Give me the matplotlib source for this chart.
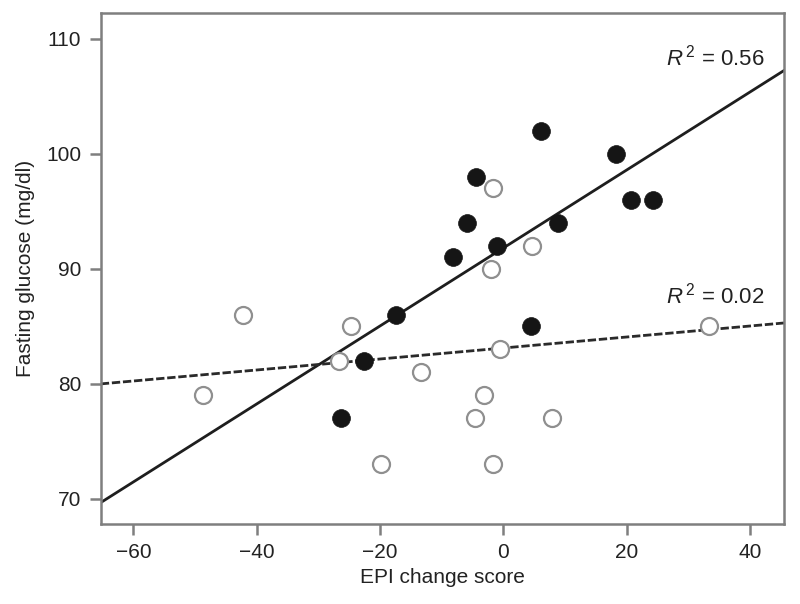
import matplotlib
matplotlib.use("Agg")
import matplotlib.pyplot as plt
import numpy as np

plt.rcParams['font.family'] = ['Liberation Sans', 'DejaVu Sans']
plt.rcParams['mathtext.fontset'] = 'custom'
plt.rcParams['mathtext.rm'] = 'Liberation Sans'
plt.rcParams['mathtext.it'] = 'Liberation Sans:italic'

# Filled points (black)
filled_x = [6.1, 18.3, -4.4, -5.9, 8.9, 20.7, 24.3, -1.0, -8.1, -17.4, 4.5, -22.6, -26.3]
filled_y = [102, 100, 98, 94, 94, 96, 96, 92, 91, 86, 85, 82, 77]

# Open points (grey)
open_x = [-1.7, 4.6, -2.0, -42.2, -24.7, 33.3, -0.5, -26.7, -13.4, -48.7, -3.1, -4.6, 7.9, -19.9, -1.7]
open_y = [97, 92, 90, 86, 85, 85, 83, 82, 81, 79, 79, 77, 77, 73, 73]

# Fit lines: (slope, intercept)
solid_fit = (0.339, 91.8)
dashed_fit = (0.0478, 83.1)

x_ticks = [-60, -40, -20, 0, 20, 40]
y_ticks = [70, 80, 90, 100, 110]

fig = plt.figure(figsize=(8, 6.04), dpi=100)
ax = fig.add_axes([0.126, 0.1325, 0.854, 0.8455])

xlim = (-65.3, 45.5)
ylim = (67.8, 112.2)
xs = np.array(xlim)

ax.plot(xs, solid_fit[0] * xs + solid_fit[1], color='#1e1e1e', lw=2.0, zorder=2)
ax.plot(xs, dashed_fit[0] * xs + dashed_fit[1], color='#2a2a2a', lw=2.0,
        linestyle=(0, (3, 1)), zorder=2)

ax.scatter(open_x, open_y, s=150, facecolors='white', edgecolors='#8f8f8f',
           linewidths=1.6, zorder=3)
ax.scatter(filled_x, filled_y, s=165, color='#151515', edgecolors='#151515',
           linewidths=0.5, zorder=4)

ax.text(0.972, 0.914, r'$R^{\,2}$ = 0.56', transform=ax.transAxes, ha='right',
        va='center', fontsize=16, color='#222222')
ax.text(0.972, 0.448, r'$R^{\,2}$ = 0.02', transform=ax.transAxes, ha='right',
        va='center', fontsize=16, color='#222222')

ax.set_xlim(*xlim)
ax.set_ylim(*ylim)
ax.set_xticks(x_ticks)
ax.set_yticks(y_ticks)
ax.set_xticklabels(['\u221260', '\u221240', '\u221220', '0', '20', '40'])

for sp in ax.spines.values():
    sp.set_color('#7f7f7f')
    sp.set_linewidth(1.8)
ax.tick_params(direction='out', length=8, width=1.8, color='#7f7f7f',
               labelsize=15, labelcolor='#222222', pad=6)

ax.set_xlabel('EPI change score', fontsize=15, color='#222222', labelpad=4)
ax.set_ylabel('Fasting glucose (mg/dl)', fontsize=15, color='#222222', labelpad=8)

fig.savefig('out.png', dpi=100)
